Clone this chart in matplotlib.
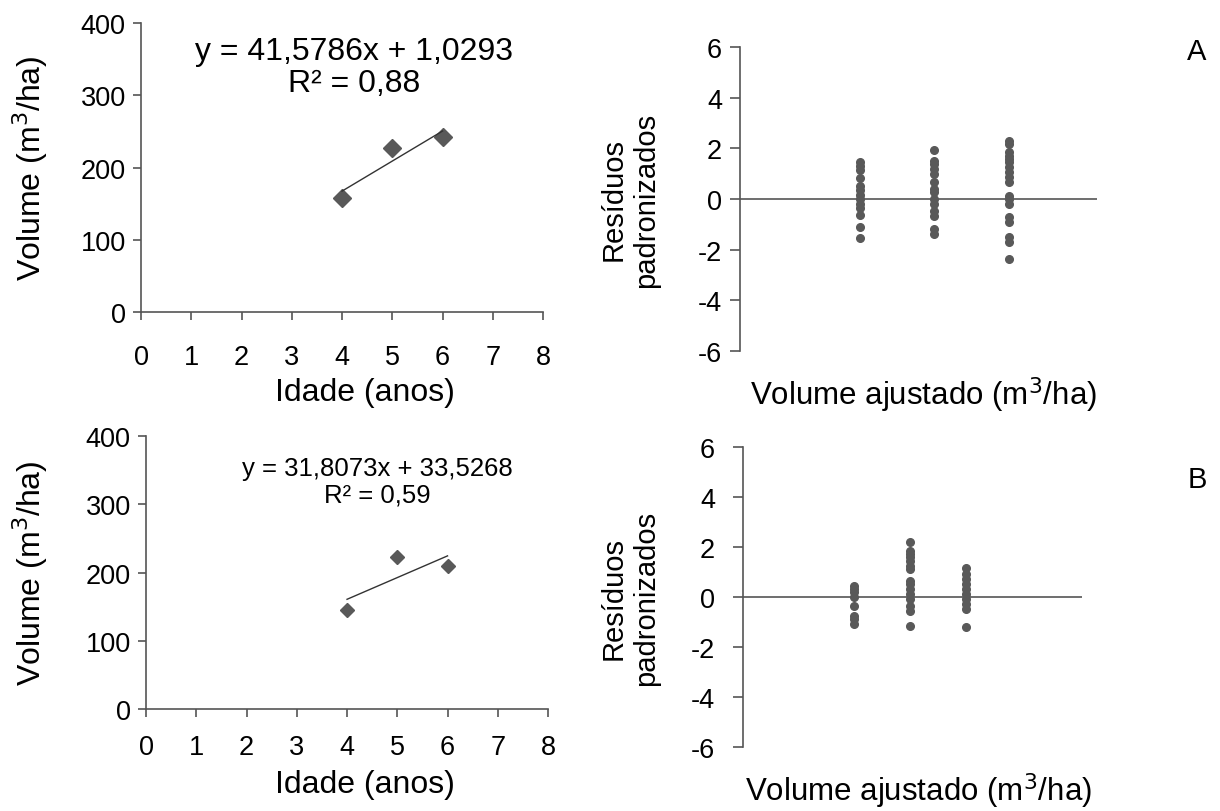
import numpy as np
import matplotlib
matplotlib.use("Agg")
import matplotlib.pyplot as plt

plt.rcParams["font.family"] = ["Liberation Sans", "DejaVu Sans"]
plt.rcParams["font.size"] = 19.5
plt.rcParams["axes.unicode_minus"] = False

# volume by age, stands A and B
idade = [4, 5, 6]
vol_a = [158.5, 226.6, 241.7]
vol_b = [145.4, 223.2, 209.0]
coef_a = (41.5786, 1.0293)
coef_b = (31.8073, 33.5268)
r2_a = "0,88"
r2_b = "0,59"

# standardized residuals grouped by fitted volume
res_a = {
    167.3: [1.45, 1.3, 1.15, 0.85, 0.5, 0.35, 0.15, 0.0, -0.2, -0.35, -0.65, -1.1, -1.55],
    208.9: [1.95, 1.52, 1.39, 1.19, 0.99, 0.66, 0.4, 0.27, 0.0, -0.2, -0.46, -0.69, -1.19, -1.39],
    250.5: [2.31, 2.18, 1.85, 1.72, 1.58, 1.45, 1.26, 1.06, 0.86, 0.66, 0.13, 0.0, -0.2,
            -0.72, -0.92, -1.52, -1.72, -2.38],
}
res_b = {
    160.8: [0.47, 0.33, 0.2, 0.0, -0.33, -0.73, -0.87, -1.07],
    192.6: [2.2, 1.87, 1.73, 1.6, 1.47, 1.27, 1.13, 0.67, 0.53, 0.33, 0.13, -0.07, -0.33, -0.53, -1.13],
    224.4: [1.16, 0.93, 0.73, 0.53, 0.33, 0.13, -0.07, -0.27, -0.47, -1.2],
}

gray = "#595959"
spine = "#555555"
W, H = 1220, 812

fig = plt.figure(figsize=(12.2, 8.12), dpi=100)


def put(x, y, s, **kw):
    # place text by pixel position from the top-left corner
    fig.text(x / W, 1 - y / H, s, ha="center", va="center", **kw)


def volume_panel(rect, vol, coef, r2, msize, xpad, eq_xy, eq_size, lab_y):
    ax = fig.add_axes(rect)
    ax.plot(idade, vol, "D", color=gray, ms=msize, mec=gray)
    x = np.array([idade[0], idade[-1]])
    ax.plot(x, coef[0] * x + coef[1], color="#333333", lw=1)
    ax.set_xlim(0, 8)
    ax.set_ylim(0, 400)
    ax.set_xticks(range(9))
    ax.set_yticks([0, 100, 200, 300, 400])
    for s in ["top", "right"]:
        ax.spines[s].set_visible(False)
    for s in ["left", "bottom"]:
        ax.spines[s].set_color(spine)
        ax.spines[s].set_linewidth(1.2)
    ax.tick_params(direction="out", length=6, width=1.2, color=spine)
    ax.tick_params(axis="y", pad=5)
    ax.tick_params(axis="x", pad=xpad)
    eq = f"y = {coef[0]:.4f}x + {coef[1]:.4f}".replace(".", ",")
    put(*eq_xy, eq + "\nR² = " + r2, fontsize=eq_size, linespacing=1.12)
    top = H * (1 - rect[1] - rect[3])
    bot = H * (1 - rect[1])
    put(30, (top + bot) / 2, "Volume (m$^3$/ha)", fontsize=23, rotation=90)
    put(365, lab_y, "Idade (anos)", fontsize=23)
    return ax


def residual_panel(rect, res, xlim, tag, ypad, lab_xy, tag_y):
    ax = fig.add_axes(rect)
    for xv, vals in res.items():
        ax.plot([xv] * len(vals), vals, "o", color=gray, ms=5.5, mec=gray)
    ax.axhline(0, color=spine, lw=1.2, zorder=0)
    ax.set_xlim(*xlim)
    ax.set_ylim(-6, 6)
    ax.set_yticks(range(-6, 7, 2))
    ax.set_xticks([])
    for s in ["top", "right", "bottom"]:
        ax.spines[s].set_visible(False)
    ax.spines["left"].set_color(spine)
    ax.spines["left"].set_linewidth(1.2)
    ax.tick_params(direction="out", length=7, width=1.2, color=spine, pad=ypad)
    mid = H * (1 - rect[1] - rect[3] / 2)
    put(630, mid, "Resíduos\npadronizados", fontsize=21, rotation=90,
        linespacing=1.2)
    put(*lab_xy, "Volume ajustado (m$^3$/ha)", fontsize=22.5)
    put(1197, tag_y, tag, fontsize=21)
    return ax


volume_panel([0.1156, 0.6145, 0.3295, 0.3559], vol_a, coef_a, r2_a, 9.5, 17,
             (354, 68), 23, 393)
volume_panel([0.1197, 0.1256, 0.3295, 0.3362], vol_b, coef_b, r2_b, 7, 12,
             (377, 482), 18.5, 785)
residual_panel([0.6066, 0.5669, 0.2926, 0.3736], res_a, (100, 300), "A", 6,
               (923, 395), 52)
residual_panel([0.6090, 0.0784, 0.2779, 0.3695], res_b, (98, 290), "B", 13,
               (918, 791), 480)

fig.savefig("out.png", dpi=100, facecolor="white")
